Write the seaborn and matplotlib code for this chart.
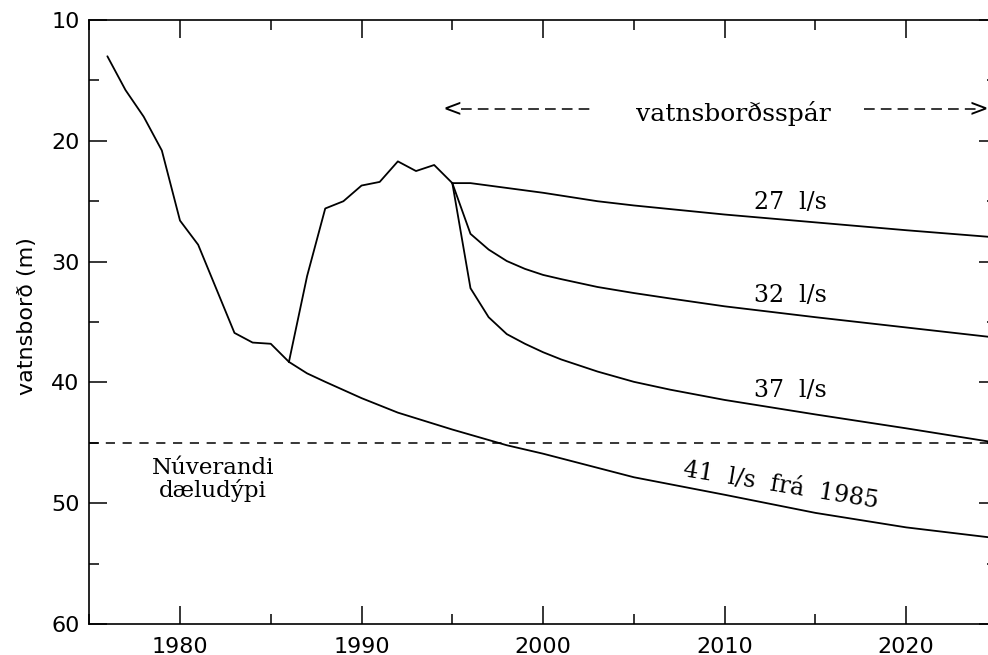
import numpy as np
import pandas as pd
import matplotlib
matplotlib.use("Agg")
import matplotlib.pyplot as plt
from matplotlib.ticker import MultipleLocator
import seaborn as sns

sns.set_style("ticks", {'axes.edgecolor': 'black', 'text.color': 'black',
                        'axes.labelcolor': 'black', 'xtick.color': 'black',
                        'ytick.color': 'black'})
plt.rcParams['font.family'] = ['DejaVu Sans']

# measured water level (m below surface), 1976-1986
hist_years = [1976, 1977, 1978, 1979, 1980, 1981, 1983, 1984, 1985, 1986]
hist_level = [13.0, 15.8, 18.0, 20.8, 26.6, 28.6, 35.9, 36.7, 36.8, 38.3]

# recovery 1986-1995
recov_years = [1986, 1987, 1988, 1989, 1990, 1991, 1992, 1993, 1994, 1995]
recov_level = [38.3, 31.2, 25.6, 25.0, 23.7, 23.4, 21.7, 22.5, 22.0, 23.5]

# forecasts from 1995
years_27 = [1995, 1996, 2000, 2003, 2005, 2010, 2015, 2020, 2025]
level_27 = [23.5, 23.5, 24.3, 25.0, 25.35, 26.1, 26.75, 27.4, 28.0]

fc_years = [1995, 1996, 1997, 1998, 1999, 2000, 2001, 2003, 2005, 2007, 2010, 2015, 2020, 2025]
level_32 = [23.5, 27.7, 29.0, 29.95, 30.6, 31.1, 31.45, 32.1, 32.6, 33.05, 33.7, 34.6, 35.45, 36.3]
level_37 = [23.5, 32.2, 34.6, 36.0, 36.8, 37.5, 38.1, 39.1, 39.95, 40.6, 41.45, 42.65, 43.8, 45.0]

# 41 l/s since 1985
low_years = [1986, 1987, 1988, 1990, 1992, 1995, 1998, 2000, 2005, 2010, 2015, 2020, 2025]
low_level = [38.3, 39.25, 39.95, 41.3, 42.5, 43.9, 45.2, 45.9, 47.85, 49.3, 50.8, 52.0, 52.9]

pump_depth = 45

series = [
    (hist_years, hist_level),
    (recov_years, recov_level),
    (years_27, level_27),
    (fc_years, level_32),
    (fc_years, level_37),
    (low_years, low_level),
]

fig = plt.figure(figsize=(9.88, 6.55), dpi=100)
ax = fig.add_axes([0.0903, 0.0473, 0.9188, 0.9221])

for yrs, lvl in series:
    df = pd.DataFrame({'year': yrs, 'level': lvl})
    sns.lineplot(data=df, x='year', y='level', color='black', lw=1.3,
                 estimator=None, sort=False, ax=ax)

# present pump depth
ax.axhline(pump_depth, color='black', lw=1.1, ls=(0, (6, 5)))

ax.set_xlim(1975, 2025)
ax.set_ylim(60, 10)
ax.xaxis.set_major_locator(MultipleLocator(10))
ax.xaxis.set_minor_locator(MultipleLocator(5))
ax.yaxis.set_major_locator(MultipleLocator(10))
ax.yaxis.set_minor_locator(MultipleLocator(5))
ax.tick_params(which='both', direction='in', top=True, right=True,
               width=1.1, labelsize=16, colors='black')
ax.tick_params(which='major', length=13)
ax.tick_params(which='minor', length=7)
ax.tick_params(axis='x', pad=9)
ax.tick_params(axis='y', pad=7)
for s in ax.spines.values():
    s.set_linewidth(1.2)
    s.set_color('black')

ax.set_xlabel('')
ax.set_ylabel('vatnsborð (m)', fontsize=16, color='black')
ax.yaxis.set_label_coords(-0.058, 0.51)

serif = dict(family='DejaVu Serif', fontsize=17, color='black')
ax.text(2013.6, 25.1, '27  l/s', ha='center', va='center', **serif)
ax.text(2013.6, 32.8, '32  l/s', ha='center', va='center', **serif)
ax.text(2013.6, 40.7, '37  l/s', ha='center', va='center', **serif)
ax.text(2013.1, 48.5, '41  l/s  frá  1985', ha='center', va='center',
        rotation=-9.3, rotation_mode='anchor', **serif)
ax.text(1981.8, 48.0, 'Núverandi\ndæludýpi', ha='center', va='center',
        linespacing=1.0, family='DejaVu Serif', fontsize=16.5, color='black')

# forecast range marker
yarr = 17.4
ax.text(2010.5, yarr + 0.35, 'vatnsborðsspár', ha='center', va='center',
        family='DejaVu Serif', fontsize=18, color='black')
ax.text(1994.45, yarr, '<', ha='left', va='center', **serif)
ax.text(2024.55, yarr, '>', ha='right', va='center', **serif)
ax.plot([1995.5, 2002.7], [yarr, yarr], color='black', lw=1.1, ls=(0, (7, 4)))
ax.plot([2017.7, 2023.9], [yarr, yarr], color='black', lw=1.1, ls=(0, (7, 4)))

fig.savefig('out.png', dpi=100)
